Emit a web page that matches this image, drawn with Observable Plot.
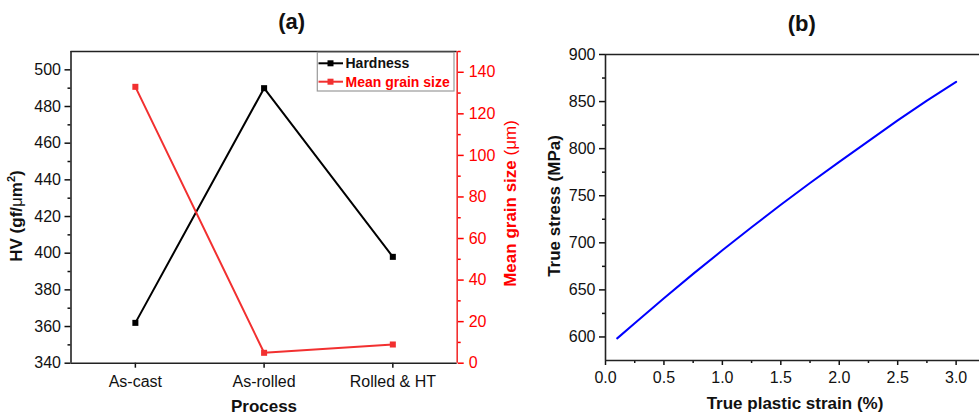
<!DOCTYPE html>
<html>
<head>
<meta charset="utf-8">
<script src="https://cdn.jsdelivr.net/npm/d3@7"></script>
<script src="https://cdn.jsdelivr.net/npm/@observablehq/plot@0.6"></script>
<style>
  body { margin: 0; background: white; }
  #chart { position: relative; width: 979px; height: 416px; overflow: hidden; background: white; }
  #chart svg { position: absolute; top: 0; }
</style>
</head>
<body>
<div id="chart"></div>
<script>
// ---------- Panel (a) data ----------
const processes = ["As-cast", "As-rolled", "Rolled & HT"];
const hardness = [362, 490, 398];          // HV (gf/μm²)
const grainSize = [133, 5, 9];             // μm
const hvTicks = [340, 360, 380, 400, 420, 440, 460, 480, 500];
const hvMinor = [350, 370, 390, 410, 430, 450, 470, 490];
const grainTicks = [0, 20, 40, 60, 80, 100, 120, 140];
const grainMinor = [10, 30, 50, 70, 90, 110, 130, 150];

// ---------- Panel (b) data ----------
const strain = [0.1, 0.25, 0.5, 0.75, 1.0, 1.25, 1.5, 1.75, 2.0, 2.25, 2.5, 2.75, 3.0];
const stress = [598.5, 614.5, 641, 667, 692, 716.5, 740.5, 763.5, 786, 808, 830, 851, 871];
const strainTicks = [0, 0.5, 1.0, 1.5, 2.0, 2.5, 3.0];
const strainMinor = [0.25, 0.75, 1.25, 1.75, 2.25, 2.75];
const stressTicks = [600, 650, 700, 750, 800, 850, 900];
const stressMinor = [625, 675, 725, 775, 825, 875];

const FONT = "'Liberation Sans', Arial, Helvetica, sans-serif";
const RED = "#ff0000";
const RED_LINE = "#f23030";
const INK = "#111";

// dual axis mapping: grain size -> HV scale
const hvDomain = [340, 510];
const grainMax = 150;
const g2hv = g => hvDomain[0] + g * (hvDomain[1] - hvDomain[0]) / grainMax;
const hv2g = v => Math.round((v - hvDomain[0]) * grainMax / (hvDomain[1] - hvDomain[0]));

const hardData = processes.map((p, i) => ({i, v: hardness[i]}));
const grainData = processes.map((p, i) => ({i, v: g2hv(grainSize[i])}));

const chart = document.getElementById("chart");

// ---------- Panel (a) ----------
const plotA = Plot.plot({
  width: 530, height: 416,
  marginLeft: 70.5, marginRight: 73.3, marginTop: 51, marginBottom: 53.3,
  style: {fontFamily: FONT, fontSize: "16px", color: INK, background: "transparent", overflow: "visible"},
  x: {domain: [-0.5, 2.5], label: null},
  y: {domain: hvDomain, label: null},
  marks: [
    Plot.axisY(hvTicks, {anchor: "left", tickSize: 6, tickPadding: 4, strokeWidth: 1.5, label: null, fontSize: 16}),
    Plot.axisY(hvMinor, {anchor: "left", tickSize: 3, strokeWidth: 1.5, tickFormat: () => "", label: null}),
    Plot.axisY(grainTicks.map(g2hv), {anchor: "right", tickSize: 6, tickPadding: 5.5, strokeWidth: 1.5, color: RED, fill: RED, stroke: RED, tickFormat: hv2g, label: null, fontSize: 16}),
    Plot.axisY(grainMinor.map(g2hv), {anchor: "right", tickSize: 3, strokeWidth: 1.5, color: RED, stroke: RED, tickFormat: () => "", label: null}),
    Plot.axisX([0, 1, 2], {anchor: "bottom", tickSize: 5, tickPadding: 7, strokeWidth: 1.5, tickFormat: i => processes[i], label: null, fontSize: 16}),
    Plot.ruleY([hvDomain[0]], {stroke: "#222", strokeWidth: 1.6}),
    Plot.ruleY([hvDomain[1]], {stroke: "#222", strokeWidth: 1.6}),
    Plot.ruleX([-0.5], {stroke: "#222", strokeWidth: 1.6}),
    Plot.ruleX([2.5], {stroke: RED_LINE, strokeWidth: 1.6}),
    Plot.line(hardData, {x: "i", y: "v", stroke: "black", strokeWidth: 2}),
    Plot.dot(hardData, {x: "i", y: "v", symbol: "square", r: 3.4, fill: "black", stroke: "none"}),
    Plot.line(grainData, {x: "i", y: "v", stroke: RED_LINE, strokeWidth: 2}),
    Plot.dot(grainData, {x: "i", y: "v", symbol: "square", r: 3.4, fill: RED_LINE, stroke: "none"})
  ]
});
plotA.style.left = "0px";
chart.appendChild(plotA);

// ---------- Panel (b) ----------
const curve = strain.map((s, i) => ({s, t: stress[i]}));
const plotB = Plot.plot({
  width: 449, height: 416,
  marginLeft: 75, marginRight: 0, marginTop: 54, marginBottom: 56,
  style: {fontFamily: FONT, fontSize: "16px", color: INK, background: "transparent", overflow: "visible"},
  x: {domain: [0, 3.2], label: null},
  y: {domain: [575, 900], label: null},
  marks: [
    Plot.axisY(stressTicks, {anchor: "left", tickSize: 6, tickPadding: 4, strokeWidth: 1.5, label: null, fontSize: 16}),
    Plot.axisY(stressMinor, {anchor: "left", tickSize: 3, strokeWidth: 1.5, tickFormat: () => "", label: null}),
    Plot.axisX(strainTicks, {anchor: "bottom", tickSize: 5, tickPadding: 6.5, strokeWidth: 1.5, tickFormat: d => d.toFixed(1), label: null, fontSize: 16}),
    Plot.axisX(strainMinor, {anchor: "bottom", tickSize: 3, strokeWidth: 1.5, tickFormat: () => "", label: null}),
    Plot.ruleY([575], {stroke: "#222", strokeWidth: 1.6}),
    Plot.ruleY([900], {stroke: "#222", strokeWidth: 1.6}),
    Plot.ruleX([0], {stroke: "#222", strokeWidth: 1.6}),
    Plot.line(curve, {x: "s", y: "t", stroke: "#0000ff", strokeWidth: 2})
  ]
});
plotB.style.left = "530px";
chart.appendChild(plotB);

// ---------- Text: titles, axis labels, legend ----------
function label(svg, {x, y, rotate = 0, anchor = "middle", size = 17, weight = "bold", fill = INK, parts}) {
  const t = d3.select(svg).append("text")
    .attr("transform", `translate(${x},${y})` + (rotate ? ` rotate(${rotate})` : ""))
    .attr("text-anchor", anchor)
    .attr("font-family", FONT)
    .attr("font-size", size)
    .attr("font-weight", weight)
    .attr("fill", fill);
  for (const p of parts) {
    const s = t.append("tspan").text(p.text);
    if (p.weight) s.attr("font-weight", p.weight);
    if (p.size) s.attr("font-size", p.size);
    if (p.dy) s.attr("dy", p.dy);
  }
  return t;
}

const sa = plotA, sb = plotB;
label(sa, {x: 291.7, y: 28.7, size: 22, parts: [{text: "(a)"}]});
label(sa, {x: 264, y: 412, size: 17, parts: [{text: "Process"}]});
label(sa, {x: 21.5, y: 216, rotate: -90, size: 17, parts: [
  {text: "HV (gf/"}, {text: "μ", weight: "normal"}, {text: "m"},
  {text: "2", size: 11, dy: "-7"}, {text: ")", dy: "7"}
]});
label(sa, {x: 516, y: 203.5, rotate: -90, size: 17, fill: RED, parts: [
  {text: "Mean grain size "}, {text: "(μm)", weight: "normal"}
]});

label(sb, {x: 271.7, y: 31.4, size: 22, parts: [{text: "(b)"}]});
label(sb, {x: 265, y: 409, size: 17, parts: [{text: "True plastic strain (%)"}]});
label(sb, {x: 30, y: 206, rotate: -90, size: 17, parts: [{text: "True stress (MPa)"}]});

// legend (panel a)
const lg = d3.select(sa).append("g")
  .attr("font-family", FONT).attr("font-weight", "bold").attr("font-size", 14)
  .attr("text-anchor", "start");
lg.append("rect").attr("x", 317.3).attr("y", 52.3).attr("width", 136.7).attr("height", 38.7)
  .attr("fill", "white").attr("stroke", "#9a9a9a").attr("stroke-width", 1.2);
const legendItems = [
  {name: "Hardness", color: "black", text: INK, y: 63.3},
  {name: "Mean grain size", color: RED_LINE, text: RED, y: 81.7}
];
for (const it of legendItems) {
  lg.append("line").attr("x1", 318.5).attr("x2", 343).attr("y1", it.y).attr("y2", it.y)
    .attr("stroke", it.color).attr("stroke-width", 2);
  lg.append("rect").attr("x", 327.5).attr("y", it.y - 3).attr("width", 6).attr("height", 6).attr("fill", it.color);
  lg.append("text").attr("x", 345.5).attr("y", it.y + 5).attr("text-anchor", "start")
    .attr("fill", it.text).text(it.name);
}
</script>
</body>
</html>
